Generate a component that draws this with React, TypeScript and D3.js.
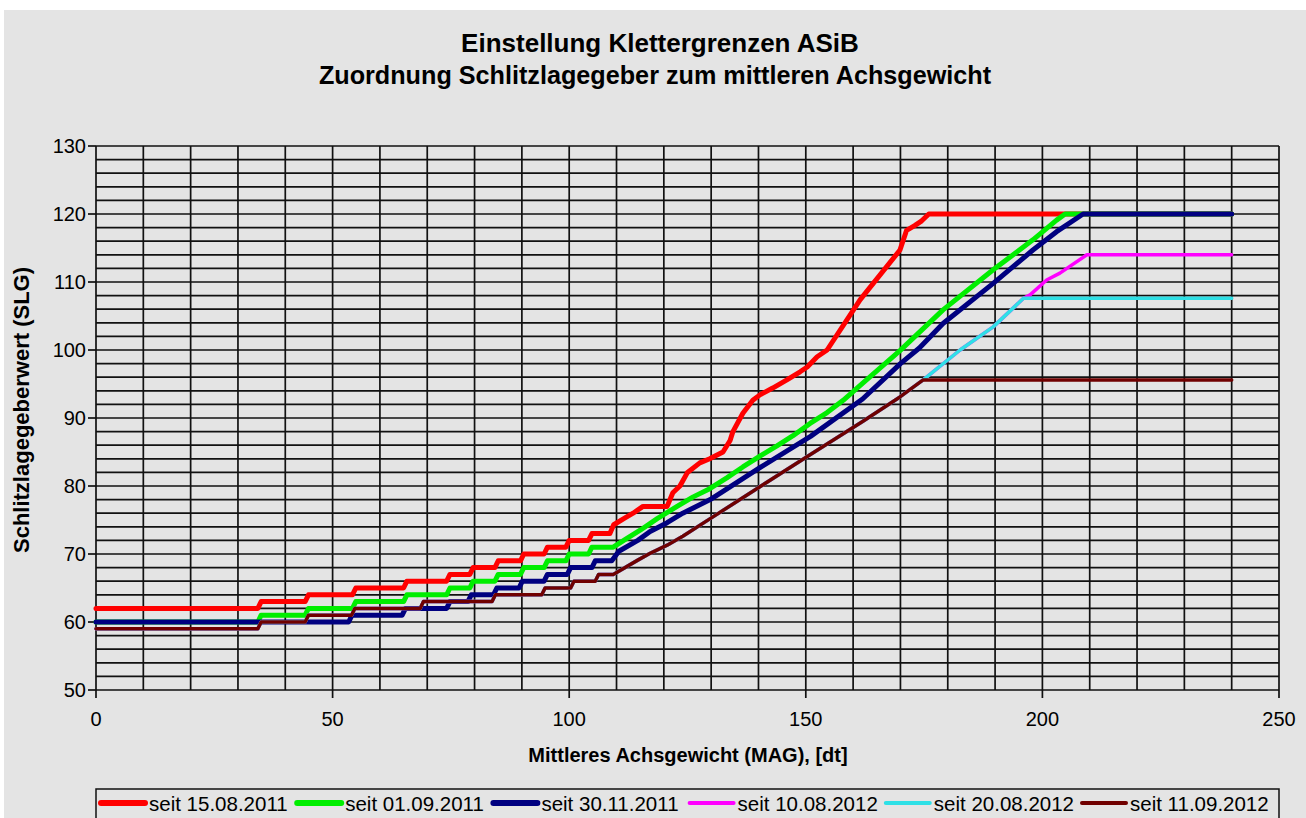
import * as d3 from "d3";
import React from "react";

type Pt = [number, number];

const title1 = "Einstellung Klettergrenzen ASiB";
const title2 = "Zuordnung Schlitzlagegeber zum mittleren Achsgewicht";
const xLabel = "Mittleres Achsgewicht (MAG), [dt]";
const yLabel = "Schlitzlagegeberwert (SLG)";

const xTicks = [0, 50, 100, 150, 200, 250];
const yTicks = [50, 60, 70, 80, 90, 100, 110, 120, 130];

// seit 15.08.2011
const red: Pt[] = [
  [0, 62], [34.2, 62], [34.9, 63], [44.2, 63], [44.9, 64], [54.2, 64], [54.9, 65],
  [65, 65], [65.7, 66], [74.1, 66], [74.8, 67], [79, 67], [79.7, 68], [84.3, 68],
  [85, 69], [89.7, 69], [90.4, 70], [94.7, 70], [95.4, 71], [99.3, 71], [100, 72],
  [104.1, 72], [104.8, 73], [108.6, 73], [109.4, 74.3], [111.8, 75.3], [113.5, 76],
  [115.6, 77], [120.7, 77], [121.9, 79], [123.4, 80], [125, 82], [127.6, 83.4],
  [129.7, 84], [132.5, 85], [134, 86.7], [134.6, 88], [136.7, 90.7], [138.8, 92.6],
  [140.3, 93.4], [143, 94.4], [146, 95.6], [148.8, 96.8], [150.3, 97.5], [152.4, 99],
  [154.5, 100], [161.5, 107.4], [169.9, 114.7], [171.3, 117.6], [173, 118.3],
  [174.5, 119], [176, 120], [240, 120],
];

// seit 01.09.2011
const green: Pt[] = [
  [0, 60], [34.2, 60], [34.9, 61], [44.2, 61], [44.9, 62], [54.2, 62], [54.9, 63],
  [65, 63], [65.7, 64], [74.1, 64], [74.8, 65], [79, 65], [79.7, 66], [84.3, 66],
  [85, 67], [89.7, 67], [90.4, 68], [94.7, 68], [95.4, 69], [99.3, 69], [100, 70],
  [104.1, 70], [104.8, 71], [109.3, 71], [112.2, 72.3], [115, 73.5], [118.6, 75.2],
  [122.8, 77], [126.2, 78.4], [129.7, 79.6], [133.3, 81.2], [136.7, 82.8],
  [140.3, 84.4], [143.9, 85.9], [147.3, 87.4], [150.9, 89.2], [154.5, 90.8],
  [157.9, 92.6], [161.5, 94.8], [169.9, 99.9], [179, 105.9], [189.6, 111.8],
  [198, 116.2], [203, 119.1], [204.8, 120], [240, 120],
];

// seit 30.11.2011
const navy: Pt[] = [
  [0, 60], [53.4, 60], [54.1, 61], [64.7, 61], [65.4, 62], [74.1, 62], [74.8, 63],
  [78.6, 63], [79.3, 64], [84, 64], [84.7, 65], [89.4, 65], [90.1, 66], [94.7, 66],
  [95.4, 67], [99.6, 67], [100.3, 68], [104.8, 68], [105.5, 69], [109, 69],
  [110.5, 70.4], [114.5, 72], [117.1, 73.3], [120.7, 74.6], [124, 76], [129.8, 78],
  [140.3, 82.7], [151, 87.3], [162, 92.8], [170, 98], [174, 100.3],
  [179, 103.9], [189.6, 109.8], [198, 114.7], [203, 117.4], [208.6, 120], [240, 120],
];

// common lower part of the 2012 settings
const low2012: Pt[] = [
  [0, 59], [34.2, 59], [34.9, 60], [44.2, 60], [44.9, 61], [54, 61], [54.7, 62],
  [68.5, 62], [69.2, 63], [83.7, 63], [84.4, 64], [94.2, 64], [94.9, 65], [100.3, 65],
  [101, 66], [105.5, 66], [106.2, 67], [109.3, 67], [114.5, 69.1], [117.1, 70.1],
  [120.7, 71.3], [124, 72.6], [129.8, 75.2], [140.3, 79.9], [150.9, 84.6],
  [162, 89.5], [169.9, 93.1], [174.8, 95.6],
];
const mid2012: Pt[] = [[182.6, 100], [189.6, 103.4], [196, 107.6]];

const magentaTail: Pt[] = [[197.4, 108.1], [200.9, 110.3], [203.7, 111.3], [209.4, 114], [240, 114]];
const cyanTail: Pt[] = [[240, 107.6]];
const maroonTail: Pt[] = [[240, 95.6]];

const series = [
  { name: "seit 15.08.2011", color: "#ff0000", width: 5, data: red },
  { name: "seit 01.09.2011", color: "#00ee00", width: 5, data: green },
  { name: "seit 30.11.2011", color: "#000080", width: 5, data: navy },
  { name: "seit 10.08.2012", color: "#ff00ff", width: 3.5, data: [...low2012, ...mid2012, ...magentaTail] },
  { name: "seit 20.08.2012", color: "#2ee0e6", width: 3.5, data: [...low2012, ...mid2012, ...cyanTail] },
  { name: "seit 11.09.2012", color: "#700000", width: 3.5, data: [...low2012, ...maroonTail] },
];

const W = 1306;
const H = 818;
const margin = { top: 146, right: 27, bottom: 128, left: 96 };

export default function App() {
  const x = d3.scaleLinear().domain([0, 250]).range([margin.left, W - margin.right]);
  const y = d3.scaleLinear().domain([50, 130]).range([H - margin.bottom, margin.top]);
  const line = d3
    .line<Pt>()
    .x((d) => x(d[0]))
    .y((d) => y(d[1]))
    .curve(d3.curveLinear);

  const vGrid = d3.range(10, 251, 10);
  const hGrid = d3.range(52, 131, 2);
  const font = "'Liberation Sans', Arial, sans-serif";

  return (
    <svg
      width={W}
      height={H}
      style={{ position: "absolute", left: 0, top: 0, fontFamily: font }}
    >
      <rect x={0} y={0} width={W} height={H} fill="#ffffff" />
      <rect x={4} y={10} width={W - 4} height={H - 10} fill="#e4e4e4" />

      {/* title */}
      <text x={660} y={52} textAnchor="middle" fontSize={26} fontWeight="bold">
        {title1}
      </text>
      <text x={655} y={84} textAnchor="middle" fontSize={25.2} fontWeight="bold">
        {title2}
      </text>

      {/* grid */}
      <g stroke="#111" strokeWidth={1.7}>
        {hGrid.map((v) => (
          <line key={"h" + v} x1={x(0)} x2={x(250)} y1={y(v)} y2={y(v)} />
        ))}
        {vGrid.map((v) => (
          <line key={"v" + v} x1={x(v)} x2={x(v)} y1={y(50)} y2={y(130)} />
        ))}
        <line x1={x(0)} x2={x(0)} y1={y(50)} y2={y(130)} />
        <line x1={x(0)} x2={x(250)} y1={y(50)} y2={y(50)} />
        {yTicks.map((v) => (
          <line key={"yt" + v} x1={x(0) - 8} x2={x(0)} y1={y(v)} y2={y(v)} />
        ))}
        {xTicks.map((v) => (
          <line key={"xt" + v} x1={x(v)} x2={x(v)} y1={y(50)} y2={y(50) + 8} />
        ))}
      </g>

      {/* tick labels */}
      {yTicks.map((v) => (
        <text key={"yl" + v} x={x(0) - 10} y={y(v) + 7} textAnchor="end" fontSize={20}>
          {v}
        </text>
      ))}
      {xTicks.map((v) => (
        <text key={"xl" + v} x={x(v)} y={y(50) + 36} textAnchor="middle" fontSize={20}>
          {v}
        </text>
      ))}

      {/* axis titles */}
      <text x={688} y={762} textAnchor="middle" fontSize={20} fontWeight="bold">
        {xLabel}
      </text>
      <text
        transform="translate(29,410) rotate(-90)"
        textAnchor="middle"
        fontSize={22}
        fontWeight="bold"
      >
        {yLabel}
      </text>

      {/* series */}
      {series.map((s) => (
        <path
          key={s.name}
          d={line(s.data) ?? ""}
          fill="none"
          stroke={s.color}
          strokeWidth={s.width}
          strokeLinejoin="round"
          strokeLinecap="round"
        />
      ))}

      {/* legend */}
      <rect x={96} y={789} width={1183} height={40} fill="#e4e4e4" stroke="#111" strokeWidth={1.5} />
      {series.map((s, i) => {
        const lx = 101 + i * 196.2;
        return (
          <g key={"lg" + i}>
            <line
              x1={lx}
              x2={lx + 44}
              y1={803}
              y2={803}
              stroke={s.color}
              strokeWidth={s.width > 4 ? 6 : 4}
              strokeLinecap="round"
            />
            <text x={lx + 48} y={811} fontSize={20.5}>
              {s.name}
            </text>
          </g>
        );
      })}
    </svg>
  );
}
